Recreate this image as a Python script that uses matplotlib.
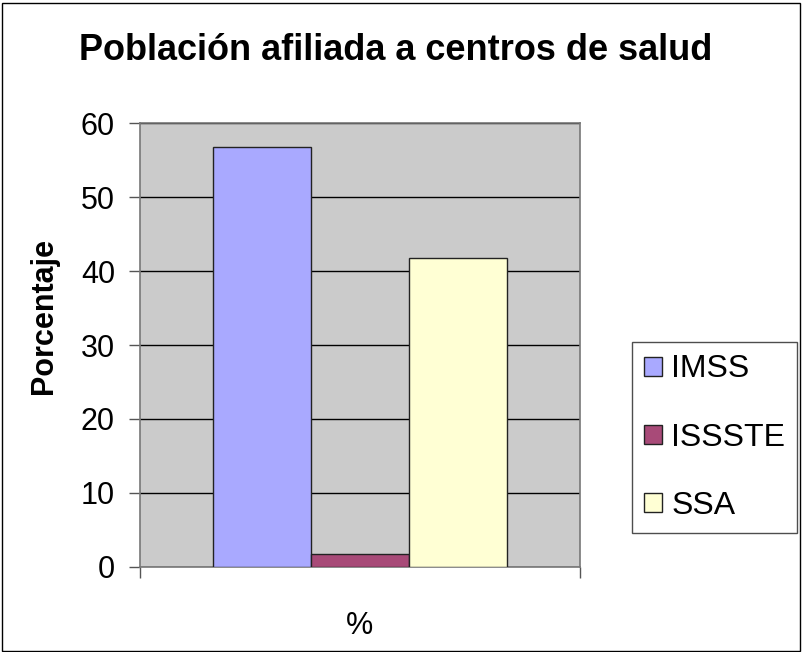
import matplotlib.pyplot as plt
import numpy as np

plt.rcParams['font.family'] = ['Liberation Sans', 'DejaVu Sans']

# data
series = ['IMSS', 'ISSSTE', 'SSA']
values = [56.8, 1.8, 41.7]
colors = ['#A9A9FF', '#A84A78', '#FFFFD4']
category = '%'
yticks = [0, 10, 20, 30, 40, 50, 60]

fig = plt.figure(figsize=(8.03, 6.52), dpi=100)
fig.patch.set_facecolor('white')
# outer border
fig.add_artist(plt.Rectangle((0.002, 0.002), 0.994, 0.994, transform=fig.transFigure,
                             fill=False, edgecolor='black', linewidth=1))

ax = fig.add_axes([0.1743, 0.1304, 0.548, 0.6809])
ax.set_facecolor('#CBCBCB')

w = 0.67 / 3
x = np.arange(len(series)) * w - w
for xi, v, c, s in zip(x, values, colors, series):
    ax.bar(xi, v, width=w, color=c, edgecolor='#222222', linewidth=1, label=s, zorder=3)

ax.set_xlim(-0.5, 0.5)
ax.set_ylim(0, 60)
ax.set_yticks(yticks)
ax.yaxis.grid(True, color='black', linewidth=1, zorder=1)
ax.set_axisbelow(True)
ax.tick_params(axis='y', labelsize=22, length=8, width=1, color='#555555', pad=10)
ax.set_xticks([-0.5, 0.5])
ax.set_xticklabels(['', ''])
ax.tick_params(axis='x', length=8, width=1, color='#555555')
for sp in ax.spines.values():
    sp.set_color('#777777')
    sp.set_linewidth(1.2)

ax.set_xlabel(category, fontsize=22, labelpad=20)
ax.set_ylabel('Porcentaje', fontsize=22, fontweight='bold')
ax.yaxis.set_label_coords(-0.185, 0.565)
fig.text(0.493, 0.923, 'Población afiliada a centros de salud', fontsize=26,
         fontweight='bold', ha='center', va='center')

leg = fig.legend(loc='upper left', bbox_to_anchor=(0.787, 0.475), fontsize=23,
                 frameon=True, fancybox=False, edgecolor='#222222',
                 handlelength=0.55, handleheight=0.55, handletextpad=0.3,
                 labelspacing=1.2, borderpad=0.38, borderaxespad=0)
leg.get_frame().set_linewidth(1)

fig.savefig('out.png', dpi=100)
